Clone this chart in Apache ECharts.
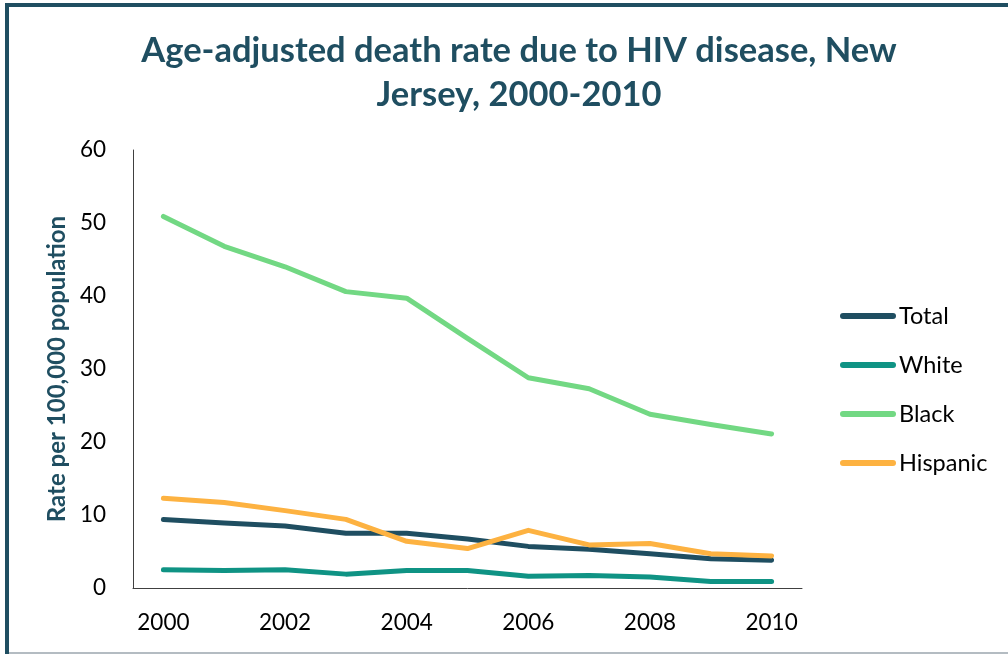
<!DOCTYPE html>
<html>
<head>
<meta charset="utf-8">
<script src="https://cdn.jsdelivr.net/npm/echarts@6/dist/echarts.min.js"></script>
<style>
  html, body { margin: 0; padding: 0; background: #fff; }
  #chart { width: 1008px; height: 654px; }
</style>
</head>
<body>
<div id="chart"></div>
<script>
// data
const years = ["2000", "2001", "2002", "2003", "2004", "2005", "2006", "2007", "2008", "2009", "2010"];
const total = [9.4, 8.9, 8.5, 7.5, 7.5, 6.7, 5.7, 5.3, 4.7, 4.0, 3.8];
const white = [2.5, 2.4, 2.5, 1.9, 2.4, 2.4, 1.6, 1.7, 1.5, 0.9, 0.9];
const black = [50.9, 46.8, 44.0, 40.6, 39.7, 34.2, 28.8, 27.3, 23.8, 22.4, 21.1];
const hispanic = [12.3, 11.7, 10.6, 9.4, 6.4, 5.4, 7.9, 5.9, 6.1, 4.7, 4.4];

const teal = "#1f4e61";
const font = "Lato, 'Open Sans', sans-serif";
const capsule = "path://M3,0 H53 A3,3 0 0 1 53,6 H3 A3,3 0 0 1 3,0 Z";

const chart = echarts.init(document.getElementById("chart"));

function lineSeries(name, data, color) {
    return {
        name: name,
        type: "line",
        data: data,
        symbol: "none",
        color: color,
        lineStyle: { width: 5, color: color, cap: "round", join: "round" },
    };
}

chart.setOption({
    animation: false,
    title: {
        text: "Age-adjusted death rate due to HIV disease, New\nJersey, 2000-2010",
        left: 514,
        top: 24,
        textAlign: "center",
        textStyle: {
            fontFamily: font,
            fontWeight: "bold",
            fontSize: 34.5,
            lineHeight: 44,
            color: teal,
        },
    },
    legend: {
        orient: "vertical",
        left: 835,
        top: 299,
        itemWidth: 56,
        itemHeight: 6,
        itemGap: 25,
        icon: capsule,
        textStyle: { fontFamily: font, fontSize: 23.5, color: "#000", padding: [0, 0, 0, -2] },
        data: ["Total", "White", "Black", "Hispanic"],
    },
    grid: { left: 133, right: 206, top: 150, bottom: 66 },
    xAxis: {
        type: "category",
        data: years,
        boundaryGap: true,
        axisLine: { lineStyle: { color: "#404040", width: 1 } },
        axisTick: { show: false },
        axisLabel: {
            interval: 1,
            margin: 23,
            fontFamily: font,
            fontSize: 22.5,
            color: "#000",
        },
    },
    yAxis: {
        type: "value",
        min: 0,
        max: 60,
        interval: 10,
        name: "Rate per 100,000 population",
        nameLocation: "middle",
        nameRotate: 90,
        nameGap: 64,
        nameTextStyle: { fontFamily: font, fontWeight: "bold", fontSize: 24, color: teal },
        axisLine: { show: true, lineStyle: { color: "#404040", width: 1 } },
        axisTick: { show: false },
        splitLine: { show: false },
        axisLabel: { margin: 27, fontFamily: font, fontSize: 22.5, color: "#000" },
    },
    graphic: [
        { type: "rect", shape: { x: 5, y: 3, width: 1003, height: 4 }, style: { fill: teal }, silent: true },
        { type: "rect", shape: { x: 5, y: 3, width: 4, height: 651 }, style: { fill: teal }, silent: true },
        { type: "rect", shape: { x: 9, y: 652, width: 999, height: 2 }, style: { fill: "#b4bcc2" }, silent: true },
    ],
    series: [
        lineSeries("Total", total, "#1f4e61"),
        lineSeries("White", white, "#0f9384"),
        lineSeries("Black", black, "#72d883"),
        lineSeries("Hispanic", hispanic, "#fdb241"),
    ],
});
</script>
</body>
</html>
